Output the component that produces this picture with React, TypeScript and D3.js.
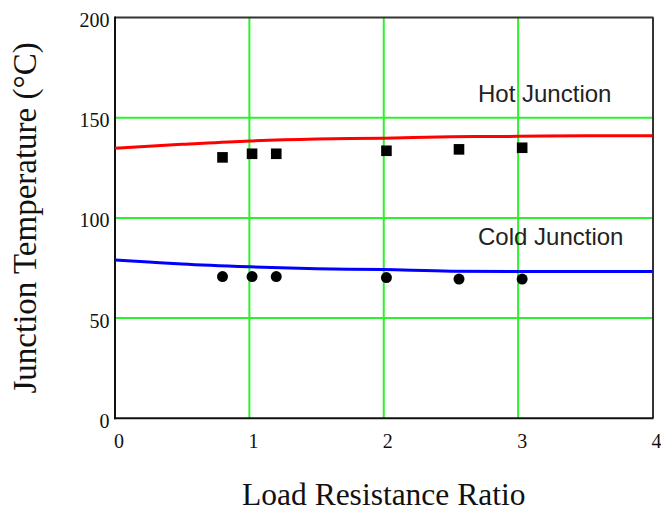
import { useMemo } from 'react';
import * as d3 from 'd3';

const WIDTH = 661;
const HEIGHT = 511;

// model curves
const curveRatio = [0, 0.25, 0.5, 1, 1.5, 2, 2.5, 3, 3.5, 4];
const hotModel = [134.7, 135.8, 136.7, 138.4, 139.4, 139.8, 140.5, 140.7, 141, 141];
const coldModel = [79, 78, 77, 75.6, 74.6, 74.2, 73.4, 73.3, 73.3, 73.3];

// measured points
const measRatio = [0.8, 1.02, 1.2, 2.02, 2.56, 3.03];
const hotMeas = [130.2, 132, 132, 133.5, 134.2, 135];
const coldMeas = [70.7, 70.7, 70.7, 70.2, 69.5, 69.5];

const xTicks = [0, 1, 2, 3, 4];
const yTicks = [0, 50, 100, 150, 200];
const xGrid = [1, 2, 3];
const yGrid = [50, 100, 150];

const SERIF = '"Liberation Serif", "Times New Roman", serif';
const SANS = '"Liberation Sans", Arial, sans-serif';

export default function App() {
  const x = d3.scaleLinear().domain([0, 4]).range([115, 652.5]);
  const y = d3.scaleLinear().domain([0, 200]).range([418.3, 17.5]);

  const [hotPath, coldPath] = useMemo(() => {
    const line = d3
      .line<[number, number]>()
      .x((d) => x(d[0]))
      .y((d) => y(d[1]))
      .curve(d3.curveMonotoneX);
    return [
      line(curveRatio.map((r, i) => [r, hotModel[i]])) ?? '',
      line(curveRatio.map((r, i) => [r, coldModel[i]])) ?? '',
    ];
  }, []);

  const [x0, x1] = x.range();
  const [yb, yt] = y.range();

  return (
    <svg
      width={WIDTH}
      height={HEIGHT}
      style={{ position: 'absolute', left: 0, top: 0, background: '#fff' }}
    >
      {/* grid */}
      {xGrid.map((t) => (
        <line key={`gx${t}`} x1={x(t)} x2={x(t)} y1={yt} y2={yb} stroke="#2cf22c" strokeWidth={2} />
      ))}
      {yGrid.map((t) => (
        <line key={`gy${t}`} x1={x0} x2={x1} y1={y(t)} y2={y(t)} stroke="#2cf22c" strokeWidth={2} />
      ))}

      {/* frame */}
      <line x1={x0} x2={x1 + 1} y1={yt} y2={yt} stroke="#333" strokeWidth={2} />
      <line x1={x1 + 0.5} x2={x1 + 0.5} y1={yt} y2={yb} stroke="#333" strokeWidth={2} />
      <line x1={x0} x2={x0} y1={yt - 1} y2={yb + 1} stroke="#111" strokeWidth={2} />
      <line x1={x0 - 1} x2={x1 + 1} y1={yb} y2={yb} stroke="#111" strokeWidth={2} />

      {/* model curves */}
      <path d={hotPath} fill="none" stroke="#ff0000" strokeWidth={3} />
      <path d={coldPath} fill="none" stroke="#0000ff" strokeWidth={3} />

      {/* measured */}
      {measRatio.map((r, i) => (
        <rect key={`h${i}`} x={x(r) - 5.3} y={y(hotMeas[i]) - 5.3} width={10.6} height={10.6} fill="#000" />
      ))}
      {measRatio.map((r, i) => (
        <circle key={`c${i}`} cx={x(r)} cy={y(coldMeas[i])} r={5.5} fill="#000" />
      ))}

      {/* annotations */}
      <text x={478} y={101.7} fontFamily={SANS} fontSize={24} fill="#222">Hot Junction</text>
      <text x={478} y={245} fontFamily={SANS} fontSize={24} fill="#222">Cold Junction</text>

      {/* tick labels */}
      {xTicks.map((t) => (
        <text key={`xt${t}`} x={x(t) + 4} y={447.5} textAnchor="middle" fontFamily={SERIF} fontSize={20} fill="#111">
          {t}
        </text>
      ))}
      {yTicks.map((t) => (
        <text key={`yt${t}`} x={109.5} y={y(t) + 9.5} textAnchor="end" fontFamily={SERIF} fontSize={20} fill="#111">
          {t}
        </text>
      ))}

      {/* axis titles */}
      <text x={(x0 + x1) / 2} y={505} textAnchor="middle" fontFamily={SERIF} fontSize={31.5} fill="#111">
        Load Resistance Ratio
      </text>
      <text
        transform={`translate(36, ${(yt + yb) / 2}) rotate(-90)`}
        textAnchor="middle"
        fontFamily={SERIF}
        fontSize={33}
        fill="#111"
      >
        Junction Temperature (°C)
      </text>
    </svg>
  );
}
